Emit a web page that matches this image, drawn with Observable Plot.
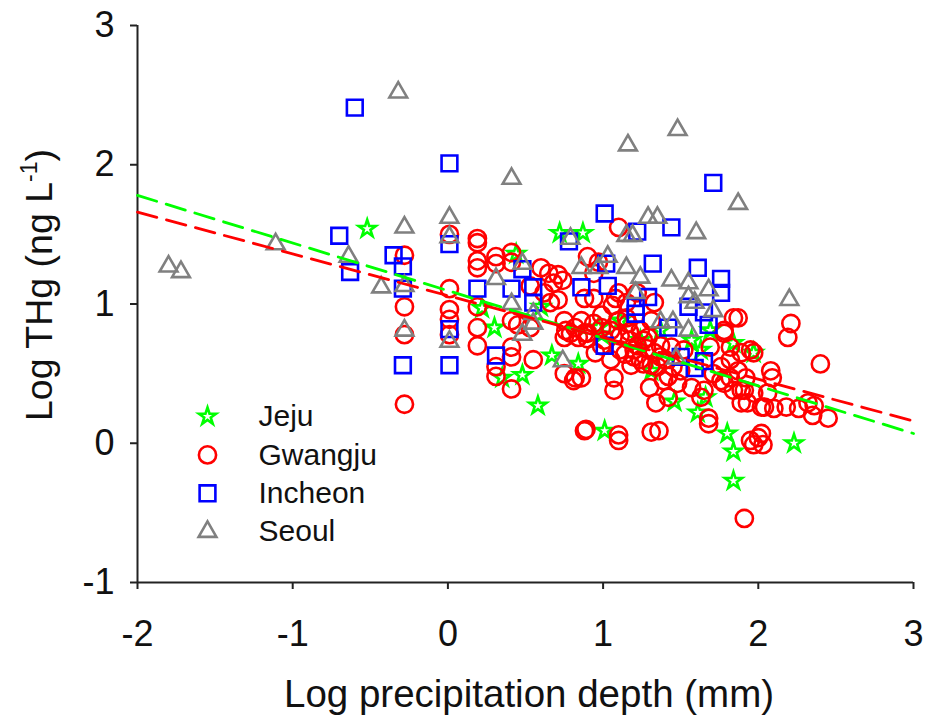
<!DOCTYPE html>
<html>
<head>
<meta charset="utf-8">
<script src="https://cdn.jsdelivr.net/npm/d3@7"></script>
<script src="https://cdn.jsdelivr.net/npm/@observablehq/plot@0.6"></script>
<style>
  html, body { margin: 0; padding: 0; background: #fff; }
  #chart { width: 933px; height: 716px; overflow: hidden; }
</style>
</head>
<body>
<div id="chart"></div>
<script>
// ---- Data ----
const xTicks = [-2, -1, 0, 1, 2, 3];
const yTicks = [-1, 0, 1, 2, 3];
const seriesNames = ["Jeju", "Gwangju", "Incheon", "Seoul"];

// Jeju (stars): [log precipitation depth, log THg]
const jeju = [
  [-0.52,1.54],[0.72,1.51],[0.87,1.51],[0.44,1.36],[0.30,0.83],[0.22,0.97],[0.67,0.63],
  [0.84,0.57],[0.48,0.49],[0.35,0.47],[0.58,0.27],[1.01,0.09],[0.97,0.83],[0.60,0.98],
  [1.46,0.30],[1.61,0.22],[1.80,0.07],[1.84,-0.06],[1.84,-0.27],[2.23,0.00],[1.84,0.72],
  [1.97,0.65],[1.66,0.33],[1.11,0.88],[1.24,0.74],[1.37,0.81],[1.57,0.74],[1.69,0.81],
  [1.31,0.52],[1.63,0.67],[0.99,0.78]
];

// Gwangju (circles)
const gwangju = [
  [-0.28,1.35],[-0.28,0.98],[-0.28,0.78],[-0.28,0.28],
  [0.01,1.50],[0.01,1.11],[0.01,0.96],[0.01,0.89],[0.01,0.78],
  [0.19,1.47],[0.19,1.44],[0.19,1.31],[0.19,1.26],[0.19,0.98],[0.19,0.83],[0.19,0.70],
  [0.31,1.34],[0.41,1.37],[0.41,1.30],[0.31,1.29],[0.60,1.26],[0.65,1.22],[0.71,1.21],
  [0.74,1.17],[0.68,1.15],[0.53,1.13],[0.62,1.08],[0.71,1.03],[0.66,1.01],[0.41,0.88],
  [0.45,0.85],[0.53,0.83],[0.41,0.69],[0.41,0.62],[0.31,0.55],[0.31,0.48],[0.41,0.39],
  [0.55,0.60],[0.75,0.88],[0.75,0.76],[0.75,0.50],[0.82,0.47],[0.79,0.79],[0.84,0.76],
  [0.88,0.79],[0.90,0.75],[1.01,0.74],[1.10,0.88],[1.16,0.86],[1.06,0.99],[1.08,1.04],
  [0.97,1.30],[1.10,1.55],[0.88,0.09],[1.10,0.06],[1.07,0.47],[1.07,0.38],
  [0.90,1.34],[0.94,1.22],[0.88,1.04],[0.94,1.04],[1.10,1.08],[1.15,1.01],[1.22,1.08],
  [1.33,1.01],[1.31,0.88],[0.94,0.86],[0.90,0.79],[0.99,0.70],[1.11,0.67],[1.20,0.67],
  [1.26,0.74],[1.33,0.65],[1.24,0.60],[1.35,0.55],[1.39,0.45],[1.30,0.40],[0.86,0.47],
  [1.31,0.08],[1.44,0.69],[1.52,0.67],[1.69,0.69],[1.78,0.79],[1.87,0.90],[1.89,0.65],
  [1.76,0.55],[1.82,0.47],[1.89,0.38],[1.93,0.29],[1.97,0.65],[1.65,0.38],[1.57,0.40],
  [1.68,0.18],[1.63,0.33],[1.78,0.43],[1.48,0.43],[1.42,0.33],[1.95,0.02],[2.00,0.04],
  [1.84,0.90],[2.21,0.86],[2.19,0.76],[2.40,0.57],[1.78,0.81],[1.82,0.69],[1.95,0.67],
  [1.82,0.60],[1.87,0.52],[2.08,0.52],[2.09,0.47],[1.92,0.47],[1.76,0.45],[1.71,0.50],
  [1.91,0.38],[2.06,0.36],[1.89,0.29],[2.04,0.26],[2.10,0.25],[2.18,0.26],[2.26,0.25],
  [2.32,0.29],[2.36,0.27],[2.35,0.20],[2.45,0.18],[1.68,0.14],[2.02,0.07],[2.03,-0.01],
  [1.91,-0.54],[0.81,0.45],[1.34,0.29],[1.36,0.09],[0.89,0.10],[1.10,0.02],[1.97,-0.01],
  [2.02,0.26],[1.84,0.38],[1.97,0.36],
  [0.76,0.81],[0.82,0.83],[0.99,0.83],[1.05,0.81],[1.11,0.77],[1.17,0.74],[1.22,0.70],
  [1.28,0.68],[1.37,0.70],[1.24,0.81],[1.15,0.90],[0.99,0.92],[0.86,0.88],[0.95,0.65],
  [1.05,0.60],[1.31,0.56],[1.18,0.56],[1.37,0.62],
  [1.14,0.64],[1.20,0.62],[1.26,0.57],[1.40,0.60],[1.45,0.55],[1.50,0.52],[1.17,0.80],
  [1.29,0.76],[1.42,0.48]
];

// Incheon (squares)
const incheon = [
  [-0.60,2.41],[0.01,2.01],[-0.70,1.49],[-0.63,1.23],[-0.35,1.35],[-0.29,1.27],[-0.29,1.11],
  [-0.29,0.56],[0.01,1.43],[0.01,0.82],[0.01,0.56],[0.19,1.11],[0.41,1.11],[0.55,1.12],
  [0.55,1.01],[0.48,1.25],[0.78,1.45],[0.31,0.63],[1.01,1.65],[1.02,1.29],[1.22,1.52],
  [1.44,1.55],[1.71,1.87],[1.32,1.29],[1.61,1.26],[1.76,1.18],[1.76,1.08],[0.86,1.12],
  [1.03,1.13],[1.29,1.05],[1.21,0.98],[1.21,0.93],[1.01,0.70],[1.42,0.83],[1.55,0.98],
  [1.65,0.94],[1.68,0.85],[1.50,0.62],[1.65,0.59],[1.59,0.54]
];

// Seoul (triangles)
const seoul = [
  [-1.80,1.27],[-1.72,1.23],[-1.11,1.43],[-0.64,1.34],[-0.43,1.12],[-0.32,2.52],[-0.28,1.55],
  [-0.28,1.13],[-0.28,0.81],[0.01,1.62],[0.01,1.48],[0.01,0.73],[0.41,1.90],[0.31,1.18],
  [0.48,1.29],[0.41,1.00],[0.55,0.93],[0.55,0.86],[0.48,0.78],[0.74,0.59],[0.79,1.47],
  [0.86,1.26],[0.97,1.26],[1.03,1.34],[1.15,1.49],[1.15,1.26],[1.16,2.14],[1.48,2.25],
  [1.87,1.72],[1.29,1.62],[1.35,1.62],[1.19,1.49],[1.60,1.51],[1.24,1.19],[1.44,1.17],
  [1.55,1.15],[1.21,1.08],[1.55,1.05],[1.68,1.10],[1.59,1.01],[1.71,0.95],[1.37,0.87],
  [1.45,0.87],[1.55,0.81],[1.47,0.61],[2.20,1.03]
];

// Dashed regression lines (end points read at x = -2 and x = 3)
const jejuFit = [[-2, 1.78], [3, 0.07]];
const gwangjuFit = [[-2, 1.66], [3, 0.16]];

// ---- Styling config ----
const font = "'Liberation Sans', Arial, Helvetica, sans-serif";
const series = [
  {name: seriesNames[0], data: jeju,    color: "#00ff00", symbol: "star",     r: 5.4},
  {name: seriesNames[1], data: gwangju, color: "#ff0000", symbol: "circle",   r: 8.6},
  {name: seriesNames[2], data: incheon, color: "#0000ff", symbol: "square",   r: 8.9},
  {name: seriesNames[3], data: seoul,   color: "#808080", symbol: "triangle", r: 6.6}
];

const dataMarks = series.map(s => Plot.dot(s.data, {
  x: d => d[0], y: d => d[1], symbol: () => s.symbol, r: s.r,
  stroke: s.color, strokeWidth: 2.6, fill: "none"
}));

const legendMarks = series.flatMap((s, i) => [
  Plot.dot([s.name], {frameAnchor: "top-left", dx: 70, dy: 391 + 38.4 * i,
    symbol: () => s.symbol, r: s.r, stroke: s.color, strokeWidth: 2.6, fill: "none"}),
  Plot.text([s.name], {frameAnchor: "top-left", dx: 121, dy: 391 + 38.4 * i,
    text: d => d, textAnchor: "start", lineAnchor: "middle", fontSize: 30, fill: "#111"})
]);

const chart = Plot.plot({
  width: 933,
  height: 716,
  marginLeft: 137,
  marginRight: 20,
  marginTop: 25,
  marginBottom: 134,
  style: {fontFamily: font, background: "white", color: "#111"},
  x: {domain: [-2, 3]},
  y: {domain: [-1, 3]},
  symbol: {type: "identity"},
  marks: [
    Plot.axisX({ticks: xTicks, tickSize: 7, tickPadding: 31, fontSize: 36, label: null,
      tickFormat: d => String(d), strokeWidth: 2, stroke: "#222", fill: "#111"}),
    Plot.axisY({ticks: yTicks, tickSize: 7, tickPadding: 16, fontSize: 36, label: null,
      tickFormat: d => String(d), strokeWidth: 2, stroke: "#222", fill: "#111"}),
    Plot.ruleX([-2], {stroke: "#222", strokeWidth: 2}),
    Plot.ruleY([-1], {stroke: "#222", strokeWidth: 2}),
    ...dataMarks,
    Plot.line(jejuFit, {x: d => d[0], y: d => d[1], stroke: "#00ff00", strokeWidth: 2.8, strokeDasharray: "20,10"}),
    Plot.line(gwangjuFit, {x: d => d[0], y: d => d[1], stroke: "#ff0000", strokeWidth: 2.8, strokeDasharray: "20,10"}),
    ...legendMarks
  ]
});

document.getElementById("chart").appendChild(chart);

// Axis titles (with superscript) as real SVG text
const svg = d3.select(chart);
svg.append("text")
  .attr("x", 529).attr("y", 707)
  .attr("text-anchor", "middle")
  .attr("font-family", font).attr("font-size", 38.5).attr("fill", "#111")
  .text("Log precipitation depth (mm)");

const yt = svg.append("text")
  .attr("transform", "translate(52,285) rotate(-90)")
  .attr("text-anchor", "middle")
  .attr("font-family", font).attr("font-size", 37.5).attr("fill", "#111");
yt.append("tspan").text("Log THg (ng L");
yt.append("tspan").attr("dy", -15).attr("font-size", 23).text("-1");
yt.append("tspan").attr("dy", 15).text(")");
</script>
</body>
</html>
